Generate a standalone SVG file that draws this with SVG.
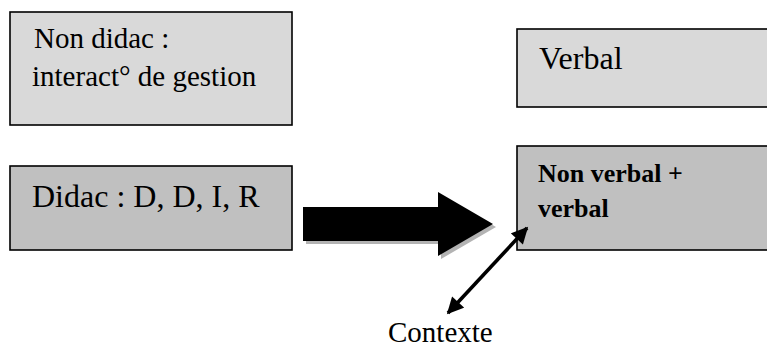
<svg xmlns="http://www.w3.org/2000/svg" width="767" height="349" viewBox="0 0 767 349">
<style>
.box{stroke:#000;stroke-width:1.6}
.light{fill:#d9d9d9}
.dark{fill:#c0c0c0}
text{font-family:"Liberation Serif","Times New Roman",serif;fill:#000}
.t{font-size:29px}
.l{font-size:32px}
.b{font-size:26px;font-weight:bold}
</style>
<defs>
<marker id="ah" viewBox="0 0 10 10" refX="9" refY="5" markerWidth="5" markerHeight="4.6" orient="auto-start-reverse" markerUnits="strokeWidth">
<path d="M0,0 L10,5 L0,10 Z" fill="#000"/>
</marker>
</defs>
<g id="node-nondidac">
<rect class="box light" x="10" y="12" width="282" height="113"/>
<text class="t" x="34" y="48">Non didac :</text>
<text class="t" x="32" y="86">interact° de gestion</text>
</g>
<g id="node-verbal">
<rect class="box light" x="517" y="29" width="260" height="78"/>
<text class="l" x="539" y="69">Verbal</text>
</g>
<g id="node-didac">
<rect class="box dark" x="10" y="166" width="282" height="84"/>
<text class="l" x="32" y="207">Didac : D, D, I, R</text>
</g>
<g id="node-nonverbal">
<rect class="box dark" x="517" y="146" width="260" height="104"/>
<text class="b" x="538" y="182">Non verbal +</text>
<text class="b" x="538" y="217">verbal</text>
</g>
<g id="node-contexte">
<text class="t" x="388" y="342">Contexte</text>
</g>
<g id="connectors">
<polygon points="306,210 441,210 441,195 496,227 441,259 441,244 306,244" fill="#b3b3b3"/>
<polygon points="303,207 438,207 438,192 493,224 438,256 438,241 303,241" fill="#000"/>
<line x1="448" y1="313" x2="527" y2="228" stroke="#000" stroke-width="3.6" marker-start="url(#ah)" marker-end="url(#ah)"/>
</g>
</svg>
